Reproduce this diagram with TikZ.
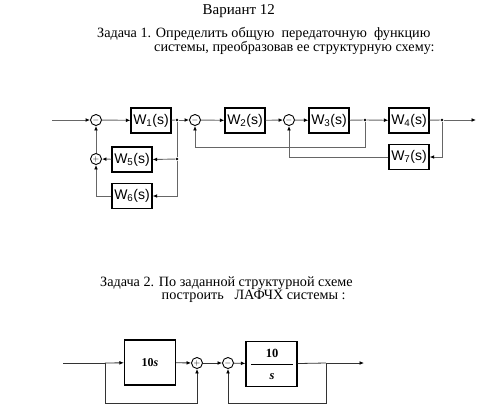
\documentclass[tikz,border=0pt]{standalone}
\usepackage{fontspec}
\setmainfont{Liberation Serif}
\setsansfont{Liberation Sans}
\usetikzlibrary{arrows.meta}

\begin{document}
\begin{tikzpicture}[x=1pt,y=-1pt,
  blk/.style={draw,line width=1.2pt,minimum width=40pt,minimum height=25pt,inner sep=0pt,font=\sffamily\fontsize{14}{14}\selectfont},
  blkb/.style={draw,line width=1.2pt,minimum width=51pt,minimum height=45pt,inner sep=0pt,font=\bfseries\fontsize{12}{12}\selectfont},
  sum/.style={draw,line width=0.9pt,circle,minimum size=11pt,inner sep=0pt,font=\bfseries\fontsize{8}{8}\selectfont},
  pt/.style={circle,fill,inner sep=0pt,minimum size=2.8pt},
  ln/.style={draw=black!60,line width=0.9pt},
  arr/.style={ln,-{Latex[length=4.5pt,width=3.8pt,color=black]}},
  txt/.style={anchor=base west,inner sep=0pt,font=\fontsize{14.2}{16}\selectfont}]
\useasboundingbox (0,0) rectangle (477,405);

\node[txt,font=\fontsize{15}{17}\selectfont] (title) at (202.5,14.5) {Вариант 12};
\node[txt] (task1a) at (97,37.5) {Задача 1. Определить общую\ \ передаточную\ \ функцию};
\node[txt] (task1b) at (154,51.5) {системы, преобразовав ее структурную схему:};

% scheme 1
\coordinate (in1) at (52,120);
\node[sum] (s1) at (96,120) {$-$};
\node[blk] (w1) at (151,120.5) {W\textsubscript{1}(s)};
\node[pt] (d1) at (177,120) {};
\node[sum] (s2) at (195,120) {$-$};
\node[blk] (w2) at (245,120.5) {W\textsubscript{2}(s)};
\node[sum] (s3) at (289,120) {$-$};
\node[blk] (w3) at (329,120.5) {W\textsubscript{3}(s)};
\node[pt] (d2) at (365,120) {};
\node[blk] (w4) at (409,120.5) {W\textsubscript{4}(s)};
\node[pt] (d3) at (442,120) {};
\coordinate (out1) at (476,120);
\node[blk] (w7) at (409,157) {W\textsubscript{7}(s)};
\node[sum] (s4) at (96,159) {$+$};
\node[blk] (w5) at (132,159.5) {W\textsubscript{5}(s)};
\node[pt] (d4) at (177,159) {};
\node[blk] (w6) at (132,196) {W\textsubscript{6}(s)};

\draw[arr] (in1) -- (s1);
\draw[arr] (s1) -- (w1);
\draw[ln] (w1) -- (d1);
\draw[arr] (d1) -- (s2);
\draw[arr] (s2) -- (w2);
\draw[arr] (w2) -- (s3);
\draw[arr] (s3) -- (w3);
\draw[ln] (w3) -- (d2);
\draw[arr] (d2) -- (w4);
\draw[ln] (w4) -- (d3);
\draw[arr] (d3) -- (out1);
\draw[arr] (d2) -- ++(0,27) -| (s2.south);
\draw[arr] (d3) |- (w7.east);
\draw[arr] (w7.west) -| (s3.south);
\draw[ln] (d1) -- (d4);
\draw[arr] (d4) -- (w5.east);
\draw[arr] (d4) |- (w6.east);
\draw[arr] (w5) -- (s4);
\draw[arr] (w6.west) -| (s4.south);
\draw[arr] (s4) -- (s1);

\node[txt] (task2a) at (100,286) {Задача 2. По заданной структурной схеме};
\node[txt] (task2b) at (161.5,299.5) {построить\ \ \ ЛАФЧХ системы :};

% scheme 2
\begin{scope}[ln/.style={draw=black!80,line width=0.8pt}]
\coordinate (in2) at (63,363);
\coordinate (b1) at (105,363);
\node[blkb] (k1) at (150,362.5) {10\textit{s}};
\node[sum] (s5) at (197,363) {$+$};
\node[sum] (s6) at (228,363) {$-$};
\node[blkb] (k2) at (271.5,364) {};
\node[font=\bfseries\fontsize{12.5}{12}\selectfont] (k2num) at (272,353) {10};
\node[font=\bfseries\itshape\fontsize{12.5}{12}\selectfont] (k2den) at (272,377) {s};
\draw[line width=0.7pt] ([xshift=6pt]k2.west) -- ([xshift=-5pt]k2.east);
\coordinate (b2) at (326,363);
\coordinate (out2) at (364,363);

\draw[ln] (in2) -- (b1);
\draw[arr] (b1) -- (k1);
\draw[arr] (k1) -- (s5);
\draw[arr] (b1) -- ++(0,40) -| (s5.south);
\draw[arr] (s5) -- (s6);
\draw[arr] (s6) -- (k2);
\draw[ln] (k2) -- (b2);
\draw[arr] (b2) -- (out2);
\draw[arr] (b2) -- ++(0,40) -| (s6.south);
\end{scope}
\end{tikzpicture}
\end{document}
